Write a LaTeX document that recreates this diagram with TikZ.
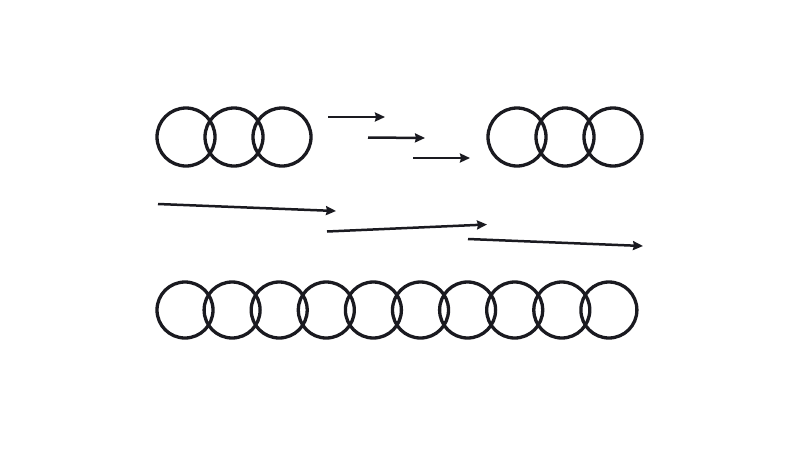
\documentclass[tikz,border=0pt]{standalone}
\usetikzlibrary{arrows.meta}
\definecolor{ink}{RGB}{26,26,32}
\begin{document}
\begin{tikzpicture}[x=1pt,y=-1pt,
  ring/.style={circle,draw=ink,line width=3.3pt,minimum size=56pt,inner sep=0pt},
  arr/.style={draw=ink,line width=2.5pt,-{Stealth[length=10pt,width=9pt,inset=1pt]}}]
\useasboundingbox[fill=white] (0,0) rectangle (800,450);
% top-left group
\node[ring,minimum size=58pt] (a1) at (186,137) {};
\node[ring,minimum size=58pt] (a2) at (234,137) {};
\node[ring,minimum size=58pt] (a3) at (282,137) {};
% top-right group
\node[ring,minimum size=58pt] (b1) at (517,137) {};
\node[ring,minimum size=58pt] (b2) at (565,137) {};
\node[ring,minimum size=58pt] (b3) at (613,137) {};
% bottom row
\foreach \i in {0,...,9} {
  \node[ring] (c\i) at ({185+47.1*\i},310) {};
}
% short arrows
\coordinate (s1a) at (328,117); \coordinate (s1b) at (385,117);
\coordinate (s2a) at (368,137.5); \coordinate (s2b) at (425,138);
\coordinate (s3a) at (413,158); \coordinate (s3b) at (470,158);
\draw[arr] (s1a) -- (s1b);
\draw[arr] (s2a) -- (s2b);
\draw[arr] (s3a) -- (s3b);
% long arrows
\coordinate (l1a) at (158,204); \coordinate (l1b) at (336,211);
\coordinate (l2a) at (327,231.5); \coordinate (l2b) at (487,224.5);
\coordinate (l3a) at (468,239); \coordinate (l3b) at (643,246);
\draw[arr] (l1a) -- (l1b);
\draw[arr] (l2a) -- (l2b);
\draw[arr] (l3a) -- (l3b);
\end{tikzpicture}
\end{document}
